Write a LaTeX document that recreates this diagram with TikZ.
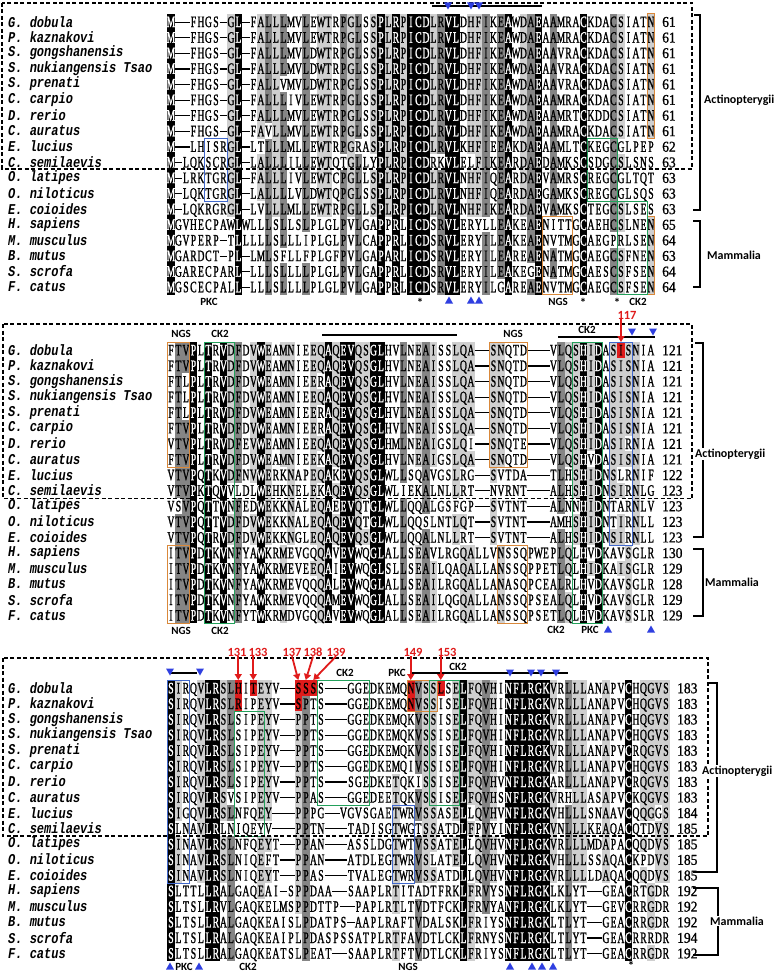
\documentclass[tikz,border=0pt]{standalone}
\usepackage{fontspec}
\usepackage{xcolor}
\usepackage{tikz}
\usetikzlibrary{arrows.meta}
\setmainfont{Liberation Serif}
\newfontfamily\seqfont[FakeStretch=0.6,FakeBold=1.2]{Liberation Serif}
\newfontfamily\numfont[FakeStretch=0.9,FakeBold=1]{Liberation Serif}
\newfontfamily\spfont[FakeStretch=0.8]{Liberation Mono}
\newfontfamily\labfont{Carlito}
\definecolor{ALDark}{HTML}{858585}
\definecolor{ALLight}{HTML}{CFCFCF}
\definecolor{ALRed}{HTML}{E01B1B}
\definecolor{ALTri}{HTML}{2F3FE0}
\definecolor{ALGreen}{HTML}{22A05A}
\definecolor{ALOrange}{HTML}{D9883A}
\definecolor{ALBlue}{HTML}{4068CC}
\colorlet{lev1}{ALLight}
\colorlet{lev2}{ALDark}
\colorlet{lev3}{black}

\ExplSyntaxOn
\int_new:N \l_aln_col_int
\int_new:N \l_aln_row_int
\int_new:N \l_aln_cnt_int
\tl_new:N \l_aln_chr_tl
\tl_const:Nn \c_aln_dash_tl { - }
\cs_new_protected:Npn \aln_store:nnn #1#2#3
  {
    \int_zero:N \l_aln_col_int
    \tl_map_inline:nn {#3}
      {
        \int_incr:N \l_aln_col_int
        \tl_gset:cn { g_aln_#1_#2_ \int_use:N \l_aln_col_int _tl } {##1}
      }
    \tl_gset:cx { g_aln_#1_len_tl } { \int_use:N \l_aln_col_int }
  }
\cs_new_protected:Npn \aln_levels:n #1
  {
    \int_step_inline:nn { 18 }
      {
        \int_step_inline:nn { \tl_use:c { g_aln_#1_len_tl } }
          {
            \tl_set_eq:Nc \l_aln_chr_tl { g_aln_#1_##1_####1_tl }
            \int_zero:N \l_aln_cnt_int
            \tl_if_eq:NNF \l_aln_chr_tl \c_aln_dash_tl
              {
                \int_step_inline:nn { 18 }
                  {
                    \tl_if_eq:NcT \l_aln_chr_tl { g_aln_#1_########1_####1_tl }
                      { \int_incr:N \l_aln_cnt_int }
                  }
              }
            \tl_gset:cx { g_aln_#1_##1_####1_lev_tl }
              {
                \int_compare:nNnTF \l_aln_cnt_int = { 18 } { 3 }
                  {
                    \int_compare:nNnTF { 5 * \l_aln_cnt_int } > { 71 } { 2 }
                      { \int_compare:nNnTF { 5 * \l_aln_cnt_int } > { 53 } { 1 } { 0 } }
                  }
              }
          }
      }
  }
\cs_new_protected:Npn \aln_row:nn #1#2
  {
    \int_step_inline:nn { \tl_use:c { g_aln_#1_len_tl } }
      {
        \tl_set_eq:Nc \l_aln_chr_tl { g_aln_#1_#2_##1_tl }
        \tl_if_eq:NNTF \l_aln_chr_tl \c_aln_dash_tl
          { \rule[0.27em]{7.5pt}{1.2pt} }
          {
            \makebox[7.5pt][c]
              {
                \int_compare:nNnTF { \tl_use:c { g_aln_#1_#2_##1_lev_tl } } = { 3 }
                  { \textcolor{white}{\l_aln_chr_tl} }
                  { \l_aln_chr_tl }
              }
          }
      }
  }
\NewDocumentCommand \alnblock { m m }
  {
    \int_zero:N \l_aln_row_int
    \clist_map_inline:nn {#2}
      {
        \int_incr:N \l_aln_row_int
        \aln_store:nnn {#1} { \int_use:N \l_aln_row_int } {##1}
      }
    \aln_levels:n {#1}
  }
\NewDocumentCommand \alnrow { m m } { \aln_row:nn {#1} {#2} }
\ExplSyntaxOff
\newcommand\alnlev[3]{\csname g_aln_#1_#2_#3_lev_tl\endcsname}

\alnblock{1}{
M--FHGS-GL-FALLLMVLEWTRPGLSSPLRPICDLRVLDHFIKEAWDAEAAMRACKDACSIATN,
M--FHGS-GL-FALLLMVLEWTRPGLSSPLRPICDLRVLDHFIKEAWDAEAAMRACKDACSIATN,
M--FHGS-GL-FALLLMVLDWTRPGLSSPLRPICDLRVLDHFIKEAWDAEAAVRACKDACSIATN,
M--FHGS-GL-FALLLMVLDWTRPGLSSPLRPICDLRVLDHFIKEAWDAEAAVRACKDACSIATN,
M--FHGS-GL-FALLVMVLDWTRPGLSSPLRPICDLRVLDHFIKEAWDAEAAVRACKDACSIATN,
M--FHGS-GL-FALLLIVLEWTRPGLSSPLRPICDLRVLDHFIKEAWDAEAAMRACKDACSIATN,
M--FHGS-GL-FALLLMVLEWTRPGLSSPLRPICDLRVLDHFIKEAWDAEAAMRTCKDDCSIATN,
M--FHGS-GL-FAVLLMVLEWTRPGLSSPLRPICDLRVLDHFIKEAWDAEAAMRACKDACSIATN,
M--LHISRGL-LTLLLMLLEWTRPGRASPLRPICDLRVLKHFIEEAKDAEAAMLTCKEGCGLPEP,
M-LQKSCRGL-LALLLILLEWTQTGLLYPLRPICDRKVLELFIKEARDAEDAMKSCSDGCSLSNS,
M-LRKTGRGL-FALLLIVLEWTCPGLLSPLRPICDLRVLNHFIQEARDAEVAMRSCREGCGLTQT,
M-LQKTGRGL-LALLLLVLDWTQPGLSSPLRPICDLRVLNHFIQEARDAEGAMKSCREGCGLSQS,
M-LQKRGRGL-LVLLLMLLEWTRPGLLSPLRPICDLRVLNHFIKEARDAEVAMKSCTEGCSLSES,
MGVHECPAWLWLLLSLLSLPLGLPVLGAPPRLICDSRVLERYLLEAKEAENITTGCAEHCSLNEN,
MGVPERP-TLLLLLSLLLIPLGLPVLCAPPRLICDSRVLERYILEAKEAENVTMGCAEGPRLSEN,
MGARDCT-PL-LMLSFLLFPLGFPVLGAPARLICDSRVLERYILEAREAENATMGCAEGCSFNEN,
MGARECPARL-LLLSLLLLPLGLPVLGAPPRLICDSRVLERYILEAKEGENATMGCAESCSFSEN,
MGSCECPALL-LLLSLLLLPLGLPVLGAPPRLICDSRVLERYILGAREAENVTMGCAEGCSFSEN}
\alnblock{2}{
FTVPLTRVDFDVWEAMNIEEQAQEVQSGLHVLNEAISSLQA--SNQTD---VLQSHIDASISNIA,
FTVPLTRVDFDVWEAMNIEEQAQEVQSGLHVLNEAISSLQA--SNQTD---VLQSHIDASISNIA,
FTLPLTRVDFDVWEAMNIEERAQEVQSGLHVLNEAISSLQA--SNQTD---VLQSHIDASISNIA,
FTLPLTRVDFDVWEAMNIEEQAQEVQSGLHVLNEAISSLQA--SNQTD---VLQSHIDASISNIA,
FTLPLTRVDFDVWEAMNIEERAQEVQSGLHVLNEAISSLQA--SNQTD---VLQSHIDASISNIA,
FTVPLTRVDFDVWEAMNIEERAQEVQSGLHVLNEAISSLQA--SNQTD---VLQSHIDASISNIA,
VTVPLTRVDFEVWEAMNIEEQAQEVQSGLHMLNEAIGSLQI--SNQTE---VLQSHIDASIRNIA,
FTVPLTRVDFDVWEAMNIEEKAQEVQSGLHVLNEAIGSLQA--SNQTD---VLQSHVDASISNIA,
VTVPQTKVDFNVWERKNAPEQAKEVQSGLWLLSQAVGSLRG--SVTDA---TLHSHIDNSLRNIF,
VTVPKTQVVLDLWEHKNELEKAQEVQSGLWLIEKALNLLRT--NVRNT---ALHSHIDNSIRNLG,
VSVPQTTVNFEDWEKKNALEQAEEVQTGLWLLQQALGSFGP--SVTNT---ALNNHIDNTARNLV,
VTVPQTTVDFDVWEKKNALEQAQEVQTGLWLLQQSLNTLQT--SVTNT---AMHSHIDNTIRNLL,
VTVPQTRVDFDVWEKKNGLEQAQEVQSGLWLLQQALNLLRT--SVTNT---ALHSHIDNSIRNLL,
ITVPDTKVNFYAWKRMEVGQQAVEVWQGLALLSEAVLRGQALLVNSSQPWEPLQLHVDKAVSGLR,
ITVPDTKVNFYAWKRMEVEEQAIEVWQGLSLLSEAILQAQALLANSSQPPETLQLHIDKAISGLR,
ITVPDTKVNFYAWKRMEVQQQALEVWQGLALLSEAILRGQALLANASQPCEALRLHVDKAVSGLR,
ITVPDTKVNFYAWKRMEVQQQAMEVWQGLALLSEAILQGQALLANSSQPSEALQLHVDKAVSGLR,
ITVPDTKVNFYTWKRMDVGQQAVEVWQGLALLSEAILRGQALLANSSQPSETLQLHVDKAVSSLR}
\alnblock{3}{
SIRQVLRSLHITEYV--SSSS---GGEDKEMQNVSSLSELFQVHINFLRGKVRLLLANAPVCHQGVS,
SIRQVLRSLRIPEYV--SPTS---GGEDKEMQNVSSISELFQVHINFLRGKVRLLLANAPVCHQGVS,
SIRQVLRSLSIPEYV--PPTS---GGEDKEMQKVSSISELFQVHINFLRGKVRLLLANAPVCHQGVS,
SIRQVLRSLSIPEYV--PPTS---GGEDKEMQKVSSISELFQVHINFLRGKVRLLLANAPVCHQGVS,
SIRQVLRSLSIPEYV--PPTS---GGEDKEMQKVSSISELFQVHINFLRGKVRLLLANAPVCRQGVS,
SIRQVLRSLSIPEYV--PPTS---GGEDKEMQIVSSISELFQVHINFLRGKVRLLLANAPVCHQGVS,
SIRQVLRSLSIPEYV--PPTS---SGEDKETQKISSISELFQVHVNFLRGKARLLLANAPVCRQGVS,
SIRQVLRSVSIPEYV--PPAS---GGEDEETQKVSSISELFQVHSNFLRGKVRHLLASAPVCKQGVS,
SIGQVLRSLNFQEY---PPPG--VGVSGAETWRVSSASELLQVHVNFLRGKVHLLLSNAAVCQQGGS,
SLNAVLRLNIQEYV---PPTN---TADISGTWGTSSATDLFPVYINFLRGKVNLLLKEAQACQTDVS,
SINAVLRSLNFQEYT--PPAN---ASSLDGTWTVSSATELLQVHVNFLRGKVRLLLMDAPACQQDVS,
SINAVLRSLNIQEFT--PPAN---ATDLEGTWRVSLATELLQVHVNFLRGKVHLLLSSAQACKPDVS,
SINAVLRSLNIQEYT--PPAS---TVALEGTWRVSSATDLLQVHVNFLRGKVRLLLLDAQACQQDVS,
SLTTLLRALGAQEAI-SPPDAA--SAAPLRTITADTFRKLFRVYSNFLRGKLKLYT--GEACRTGDR,
SLTSLLRVLGAQKELMSPPDTTP--PAPLRTLTVDTFCKLFRVYANFLRGKLKLYT--GEVCRRGDR,
SLTSLLRALGAQKEAISLPDATPS-AAPLRAFTVDALSKLFRIYSNFLRGKLTLYT--GEACRRGDR,
SLTSLLRALGAQKEAIPLPDASPSSATPLRTFAVDTLCKLFRNYSNFLRGKLTLYT--GEACRRRDR,
SLTSLLRALGAQKEATSLPEAT--SAAPLRTFTVDTLCKLFRIYSNFLRGKLTLYT--GEACRRGDR}

\tikzset{
  seqrow/.style={anchor=base west,inner sep=0pt,font=\seqfont\fontsize{16}{16}\selectfont},
  spname/.style={anchor=west,inner sep=0pt,font=\spfont\bfseries\itshape\fontsize{15}{15}\selectfont},
  seqnum/.style={anchor=base west,inner sep=0pt,font=\numfont\fontsize{15}{15}\selectfont},
  sitelab/.style={inner sep=0pt,font=\labfont\bfseries\fontsize{11}{11}\selectfont},
  grplab/.style={anchor=west,inner sep=1pt,font=\labfont\bfseries\fontsize{12}{12}\selectfont},
  rednum/.style={inner sep=0pt,text=ALRed,font=\labfont\bfseries\fontsize{12.5}{12.5}\selectfont},
  cysmark/.style={inner sep=0pt,font=\labfont\bfseries\fontsize{13}{13}\selectfont},
  redarr/.style={ALRed,line width=1.8pt,-{Triangle[width=7pt,length=6pt]}},
  grpbox/.style={line width=1.1pt,dash pattern=on 4pt off 2.5pt},
  brk/.style={line width=1.8pt},
  bar/.style={line width=2.6pt},
  ngsbox/.style={draw=ALOrange,line width=1pt},
  ck2box/.style={draw=ALGreen,line width=1pt},
  pkcbox/.style={draw=ALBlue,line width=1pt},
  tridown/.pic={\fill[ALTri] (-4,-3.5) -- (4,-3.5) -- (0,3.5) -- cycle;},
  triup/.pic={\fill[ALTri] (-4,3.5) -- (4,3.5) -- (0,-3.5) -- cycle;}
}

\begin{document}
\begin{tikzpicture}[x=1pt,y=-1pt]
\path[use as bounding box] (0,0) rectangle (778,973);
\fill[white] (0,0) rectangle (778,973);

\foreach \b/\yo/\nc in {1/21.7/65,2/350/65,3/688/67}{
  \foreach \r in {1,...,18}{
    \foreach \c in {1,...,\nc}{
      \edef\lv{\alnlev{\b}{\r}{\c}}
      \ifnum\lv>0
        \fill[fill=lev\lv] ({167+(\c-1)*7.5},{\yo+(\r-1)*15.6-7.8}) rectangle ++(7.5,15.6);
      \fi
    }
  }
}

\foreach \yo/\r/\c in {350/1/61,688/1/10,688/1/12,688/1/18,688/1/19,688/1/20,688/1/33,688/1/37,688/2/10,688/2/18,688/2/33}
  \fill[ALRed] ({167+(\c-1)*7.5},{\yo+(\r-1)*15.6-7.8}) rectangle ++(7.5,15.6);

\foreach \b/\yo/\xe/\nums in {1/21.7/662/{61,61,61,61,61,61,61,61,62,63,63,63,63,65,64,63,64,64},
    2/350/662/{121,121,121,121,121,121,121,121,122,123,123,123,123,130,129,128,129,129},
    3/688/677/{183,183,183,183,183,183,183,183,184,185,185,185,185,192,192,192,194,192}}{
  \foreach \r in {1,...,18}{
    \node[seqrow] (s\b-\r) at (167,{\yo+(\r-1)*15.6+5.4}) {\alnrow{\b}{\r}};
  }
  \foreach \nn [count=\r] in \nums{
    \node[seqnum] (e\b-\r) at (\xe,{\yo+(\r-1)*15.6+5.2}) {\nn};
  }
  \foreach \nm [count=\r] in {G. dobula,P. kaznakovi,S. gongshanensis,S. nukiangensis Tsao,S. prenati,C. carpio,D. rerio,C. auratus,E. lucius,C. semilaevis,O. latipes,O. niloticus,E. coioides,H. sapiens,M. musculus,B. mutus,S. scrofa,F. catus}{
    \node[spname] (n\b-\r) at (8,{\yo+(\r-1)*15.6}) {\nm};
  }
}

\draw[ngsbox] (647,13.9) rectangle (654.5,138.7);
\draw[ngsbox] (542,216.7) rectangle (572,294.8);
\draw[ngsbox] (647,216.7) rectangle (654.5,294.8);
\draw[pkcbox] (204.5,138.7) rectangle (227,201.1);
\draw[ck2box] (587,138.7) rectangle (617,201.1);
\draw[ck2box] (617,201.1) rectangle (647,294.8);

\draw[ngsbox] (167,342.2) rectangle (189.5,467);
\draw[ngsbox] (167,545) rectangle (189.5,623);
\draw[ck2box] (204.5,342.2) rectangle (234.5,623);
\draw[ngsbox] (489.5,342.2) rectangle (527,467);
\draw[ngsbox] (497,545) rectangle (527,623);
\draw[ck2box] (572,342.2) rectangle (602,623);
\draw[pkcbox] (609.5,342.2) rectangle (632,545);

\draw[pkcbox] (167,680.2) rectangle (189.5,883);
\draw[ck2box] (234.5,711.4) rectangle (264.5,836.2);
\draw[ck2box] (317,680.2) rectangle (369.5,805);
\draw[ngsbox] (407,680.2) rectangle (437,711.4);
\draw[ck2box] (429.5,680.2) rectangle (459.5,805);
\draw[pkcbox] (392,805) rectangle (414.5,883);

\draw[grpbox] (2,3) rectangle (692,169);
\draw[grpbox] (3,324) rectangle (692,498.5);
\draw[grpbox] (3,658) rectangle (708,836);

\draw[brk] (694,15) -| (700,210) -- (693,210);
\draw[brk] (693,221) -| (700,287) -- (693,287);
\draw[brk] (695,343) -| (703,537) -- (693,537);
\draw[brk] (693,549) -| (703,616) -- (693,616);
\draw[brk] (708,683) -| (717,872) -- (693,872);
\draw[brk] (693,888) -| (718,955) -- (693,955);
\node[grplab] (act1) at (703,100) {Actinopterygii};
\node[grplab] (mam1) at (706,255) {Mammalia};
\node[grplab,fill=white] (act2) at (694,454) {Actinopterygii};
\node[grplab] (mam2) at (704,582) {Mammalia};
\node[grplab,fill=white] (act3) at (701,771) {Actinopterygii};
\node[grplab,fill=white] (mam3) at (709,921) {Mammalia};

\draw[bar] (432,6) -- (542,6);
\foreach \x in {448,471,479} \pic at (\x,6) {tridown};
\foreach \x in {449,471,479} \pic at (\x,300) {triup};
\node[sitelab] (pkc1) at (209,302) {PKC};
\node[sitelab] (ngs1) at (558,302) {NGS};
\node[sitelab] (ck21) at (638,302) {CK2};
\foreach \x [count=\i] in {420,583,617} \node[cysmark] (cys1-\i) at (\x,303) {*};

\node[sitelab] (ngs2a) at (181,334) {NGS};
\node[sitelab] (ck22a) at (220,334) {CK2};
\node[sitelab] (ngs2b) at (513,334) {NGS};
\node[sitelab] (ck22b) at (587,330) {CK2};
\draw[bar] (322,335) -- (457,335);
\draw[bar] (558,337) -- (655,337);
\foreach \x in {632,653} \pic at (\x,332) {tridown};
\node[rednum] (p117) at (627,315) {117};
\coordinate (q117) at (621,342);
\draw[redarr] (p117.south -| q117) -- (q117);
\node[sitelab] (ngs2c) at (181,631) {NGS};
\node[sitelab] (ck22c) at (220,631) {CK2};
\node[sitelab] (ck22d) at (556,630) {CK2};
\node[sitelab] (pkc2) at (590,630) {PKC};
\foreach \x in {608,651} \pic at (\x,629) {triup};

\draw[bar] (170,673) -- (197,673);
\foreach \x in {170,200} \pic at (\x,672) {tridown};
\draw[bar] (410,673) -- (568,673);
\foreach \x in {510,531,541,556} \pic at (\x,673) {tridown};
\node[sitelab] (ck23a) at (345,673) {CK2};
\node[sitelab] (pkc3a) at (397,673) {PKC};
\node[sitelab] (ck23b) at (458,667) {CK2};
\foreach \n/\lx/\qx in {131/237/238.25,133/258/253.25,149/413/410.75,153/447/440.75}{
  \node[rednum] (p\n) at (\lx,652) {\n};
  \coordinate (q\n) at (\qx,680);
  \draw[redarr] (p\n.south -| q\n) -- (q\n);
}
\foreach \n/\lx/\qx in {137/292/298.25,138/313/305.75,139/336/313.25}{
  \node[rednum] (p\n) at (\lx,652) {\n};
  \coordinate (q\n) at (\qx,680);
  \draw[redarr] (p\n.south) -- (q\n);
}
\foreach \x in {170,199} \pic at (\x,966) {triup};
\foreach \x in {510,532,542,553} \pic at (\x,966) {triup};
\node[sitelab] (pkc3b) at (184,967) {PKC};
\node[sitelab] (ck23c) at (248,967) {CK2};
\node[sitelab] (ngs3) at (408,967) {NGS};
\node[cysmark,anchor=north] (cys3) at (631,960.5) {*};
\end{tikzpicture}
\end{document}
